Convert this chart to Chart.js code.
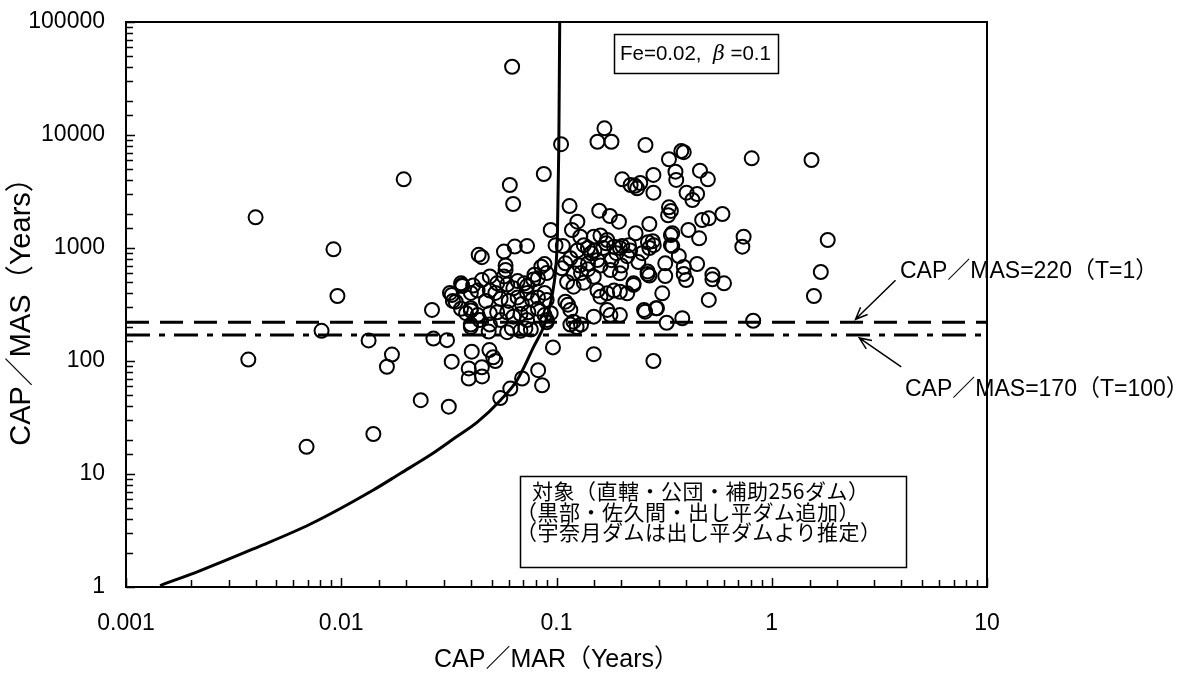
<!DOCTYPE html>
<html>
<head>
<meta charset="utf-8">
<script src="https://cdn.jsdelivr.net/npm/chart.js@4.4.0/dist/chart.umd.min.js"></script>
<style>
  html, body { margin: 0; padding: 0; background: #fff; }
  #wrap { width: 1190px; height: 677px; position: relative; }
</style>
</head>
<body>
<div id="wrap"><canvas id="sedChart"></canvas></div>
<script>
// dams: CAP/MAR (x) and CAP/MAS (y)
const capMar = [
  0.0037, 0.0040, 0.0069, 0.0081, 0.0092, 0.0096, 0.0134, 0.0141, 0.0163, 0.0172,
  0.0195, 0.0234, 0.0264, 0.0268, 0.0310, 0.0316, 0.0326, 0.0391, 0.0450, 0.0391,
  0.0451, 0.0404, 0.0488, 0.0508, 0.0520, 0.0548, 0.0610, 0.0692, 0.0822, 0.0857,
  0.0963, 0.0622, 0.105, 0.0607, 0.0629, 0.0873, 0.167, 0.155, 0.180, 0.259,
  0.380, 0.390, 0.807, 1.53, 1.57, 1.69, 1.82, 0.82, 0.74, 0.73,
  0.282, 0.149, 0.0326, 0.0340, 0.0364, 0.0400, 0.0484, 0.0620, 0.0717, 0.0903,
  0.0400, 0.333, 0.357, 0.360, 0.464, 0.505, 0.402, 0.428, 0.450, 0.202,
  0.221, 0.237, 0.245, 0.232, 0.282, 0.282, 0.333, 0.340, 0.330, 0.590,
  0.475, 0.510, 0.410, 0.460, 0.450, 0.530, 0.600, 0.510, 0.390, 0.400,
  0.345, 0.270, 0.233, 0.202, 0.283, 0.270, 0.345, 0.370, 0.320, 0.320,
  0.310, 0.265, 0.270, 0.293, 0.255, 0.384, 0.325, 0.158, 0.177, 0.195,
  0.115, 0.125, 0.118, 0.094, 0.099, 0.107, 0.129, 0.134, 0.149, 0.160,
  0.172, 0.185, 0.197, 0.213, 0.145, 0.116, 0.110, 0.106, 0.120, 0.128,
  0.140, 0.155, 0.160, 0.178, 0.197, 0.149, 0.134, 0.112, 0.120, 0.155,
  0.172, 0.185, 0.197, 0.213, 0.228, 0.160, 0.110, 0.113, 0.116, 0.172,
  0.178, 0.197, 0.149, 0.120, 0.116, 0.130, 0.124, 0.265, 0.390, 0.530,
  0.228, 0.258, 0.290, 0.266, 0.280, 0.217, 0.340, 0.340, 0.170, 0.165,
  0.140, 0.150, 0.125, 0.190, 0.180, 0.140, 0.130, 0.200, 0.240, 0.250,
  0.220, 0.0435, 0.045, 0.057, 0.064, 0.073, 0.058, 0.058, 0.049, 0.057,
  0.045, 0.036, 0.0365, 0.041, 0.053, 0.059, 0.063, 0.073, 0.079, 0.085,
  0.088, 0.082, 0.078, 0.071, 0.066, 0.090, 0.032, 0.033, 0.040, 0.043,
  0.049, 0.052, 0.055, 0.060, 0.066, 0.073, 0.082, 0.088, 0.090, 0.077,
  0.069, 0.047, 0.036, 0.038, 0.040, 0.043, 0.044, 0.049, 0.053, 0.059,
  0.063, 0.068, 0.074, 0.082, 0.088, 0.094, 0.055, 0.073, 0.040, 0.049,
  0.090, 0.059, 0.068, 0.076
];
const capMas = [
  103, 1870, 17.4, 185, 973, 376, 152, 22.6, 89, 114,
  4050, 45, 283, 158, 153, 39.4, 98.6, 86, 88, 70,
  73, 121, 125, 108, 100, 47, 57, 70, 83, 61,
  132, 40200, 8300, 3610, 2450, 4520, 11460, 8720, 8720, 8160,
  7200, 7050, 6220, 6010, 376, 613, 1177, 227, 1260, 1027,
  100, 115, 384, 335, 471, 293, 182, 195, 195, 230,
  200, 6100, 4735, 4000, 4830, 4055, 3085, 2660, 3005, 4055,
  3610, 3375, 3760, 3550, 4430, 3085, 2290, 2130, 1950, 2000,
  1770, 1830, 1443, 1218, 722, 528, 487, 347, 589, 520,
  1350, 1630, 1350, 1042, 1060, 1000, 1040, 850, 732, 565,
  397, 589, 570, 293, 283, 239, 218, 2140, 1920, 1710,
  2350, 1710, 1443, 1443, 1060, 1042, 1258, 1060, 1258, 1290,
  1177, 1027, 1000, 846, 898, 811, 732, 661, 597, 700,
  730, 783, 700, 639, 597, 557, 493, 500, 455, 420,
  397, 420, 410, 397, 471, 371, 335, 315, 283, 283,
  255, 255, 247, 223, 210, 210, 200, 620, 680, 580,
  487, 273, 293, 1125, 1150, 1060, 1300, 1060, 1100, 1000,
  1000, 950, 950, 900, 780, 650, 600, 700, 750, 900,
  950, 870, 830, 930, 1030, 1040, 700, 640, 560, 560,
  520, 487, 460, 465, 487, 475, 440, 460, 580, 683,
  720, 540, 525, 487, 510, 600, 400, 340, 400, 420,
  420, 400, 355, 340, 365, 400, 365, 400, 347, 347,
  320, 340, 290, 265, 280, 255, 230, 265, 270, 270,
  247, 260, 270, 290, 255, 265, 230, 230, 210, 210,
  220, 180, 185, 190
];

// theoretical curve (Fe=0.02, beta=0.1)
const curveMar = [0.00144, 0.0022, 0.0039, 0.0072, 0.0141, 0.0188, 0.0259, 0.0339, 0.0430, 0.0549, 0.0657, 0.0784, 0.088, 0.094, 0.0975, 0.0995, 0.101, 0.1025, 0.1035];
const curveMas = [1.03, 1.39, 2.17, 3.61, 7.22, 10.1, 14.7, 21.0, 28.9, 45, 68, 134, 210, 330, 490, 700, 1350, 8000, 100000];

// horizontal reference lines
const lineMar = [0.001, 10];
const masT1 = 220;
const masT100 = 170;

const xTickLabels = ['0.001', '0.01', '0.1', '1', '10'];
const yTickLabels = ['1', '10', '100', '1000', '10000', '100000'];

const LATIN = '"Liberation Sans", Arial, "Noto Sans CJK JP", sans-serif';
const JP = '"Noto Sans CJK JP", "Liberation Sans", sans-serif';

function decadeIndex(v) {
  const l = Math.log10(v);
  const r = Math.round(l);
  return Math.abs(l - r) < 1e-6 ? r : null;
}

function drawArrow(ctx, x1, y1, x2, y2) {
  const ang = Math.atan2(y2 - y1, x2 - x1);
  const head = 13;
  ctx.beginPath();
  ctx.moveTo(x1, y1);
  ctx.lineTo(x2, y2);
  ctx.moveTo(x2 - head * Math.cos(ang - 0.4), y2 - head * Math.sin(ang - 0.4));
  ctx.lineTo(x2, y2);
  ctx.lineTo(x2 - head * Math.cos(ang + 0.4), y2 - head * Math.sin(ang + 0.4));
  ctx.stroke();
}

const framePlugin = {
  id: 'framePlugin',
  afterDraw(chart) {
    const ctx = chart.ctx;
    const { left, right, top, bottom } = chart.chartArea;
    const xs = chart.scales.x;
    const ys = chart.scales.y;
    ctx.save();
    ctx.strokeStyle = '#000';
    ctx.fillStyle = '#000';

    // inward tick marks
    ctx.lineWidth = 1.5;
    ctx.beginPath();
    xs.ticks.forEach(t => {
      const px = Math.round(xs.getPixelForValue(t.value)) + 0.5;
      const len = decadeIndex(t.value) !== null ? 9 : 7;
      ctx.moveTo(px, bottom);
      ctx.lineTo(px, bottom - len);
    });
    ys.ticks.forEach(t => {
      const py = Math.round(ys.getPixelForValue(t.value)) + 0.5;
      const len = decadeIndex(t.value) !== null ? 9 : 7;
      ctx.moveTo(left, py);
      ctx.lineTo(left + len, py);
    });
    ctx.stroke();

    // plot frame
    ctx.lineWidth = 2;
    ctx.strokeRect(left, top, right - left, bottom - top);

    // parameter box
    ctx.lineWidth = 1.5;
    ctx.strokeRect(614.5, 34.5, 164, 39);
    ctx.textBaseline = 'alphabetic';
    ctx.textAlign = 'left';
    let tx = 620;
    const ty = 60;
    ctx.font = '20.5px ' + LATIN;
    ctx.fillText('Fe=0.02,  ', tx, ty);
    tx += ctx.measureText('Fe=0.02,  ').width;
    ctx.font = 'italic 20.5px "DejaVu Serif", serif';
    ctx.fillText('β', tx, ty);
    tx += ctx.measureText('β').width;
    ctx.font = '20.5px ' + LATIN;
    ctx.fillText(' =0.1', tx, ty);

    // data description box
    ctx.lineWidth = 1.5;
    ctx.strokeRect(520.5, 476.5, 386, 91);
    ctx.font = '21px ' + JP;
    ctx.letterSpacing = '0.5px';
    ctx.textBaseline = 'middle';
    ctx.fillText('対象（直轄・公団・補助256ダム）', 532, 491);
    ctx.fillText('（黒部・佐久間・出し平ダム追加）', 516, 512);
    ctx.fillText('（宇奈月ダムは出し平ダムより推定）', 516, 532);
    ctx.letterSpacing = '0px';

    // reference line labels and arrows
    ctx.font = '23px ' + LATIN;
    ctx.fillText('CAP／MAS=220（T=1）', 900, 272);
    ctx.fillText('CAP／MAS=170（T=100）', 905, 390);
    ctx.lineWidth = 1.5;
    const tip1x = xs.getPixelForValue(2.45);
    const tip1y = ys.getPixelForValue(masT1) - 3;
    drawArrow(ctx, tip1x + 40, tip1y - 39, tip1x, tip1y);
    const tip2x = xs.getPixelForValue(2.55);
    const tip2y = ys.getPixelForValue(masT100) + 3;
    drawArrow(ctx, tip2x + 42, tip2y + 29, tip2x, tip2y);

    ctx.restore();
  }
};

const damPoints = capMar.map((x, i) => ({ x: x, y: capMas[i] }));
const curvePoints = curveMar.map((x, i) => ({ x: x, y: curveMas[i] }));
const t1Points = lineMar.map(x => ({ x: x, y: masT1 }));
const t100Points = lineMar.map(x => ({ x: x, y: masT100 }));

new Chart(document.getElementById('sedChart'), {
  type: 'scatter',
  data: {
    datasets: [
      {
        label: 'dams',
        data: damPoints,
        pointRadius: 7,
        pointBorderWidth: 2,
        pointBorderColor: '#000',
        pointBackgroundColor: 'rgba(0,0,0,0)',
        showLine: false
      },
      {
        label: 'curve',
        data: curvePoints,
        showLine: true,
        pointRadius: 0,
        borderColor: '#000',
        borderWidth: 3,
        cubicInterpolationMode: 'monotone'
      },
      {
        label: 'T=1',
        data: t1Points,
        showLine: true,
        pointRadius: 0,
        borderColor: '#000',
        borderWidth: 3,
        borderDash: [23, 11]
      },
      {
        label: 'T=100',
        data: t100Points,
        showLine: true,
        pointRadius: 0,
        borderColor: '#000',
        borderWidth: 3,
        borderDash: [24, 9, 6, 9]
      }
    ]
  },
  options: {
    responsive: true,
    maintainAspectRatio: false,
    animation: false,
    layout: { padding: { top: 22, right: 203, bottom: 0, left: 0 } },
    plugins: {
      legend: { display: false },
      tooltip: { enabled: false }
    },
    scales: {
      x: {
        type: 'logarithmic',
        min: 0.001,
        max: 10,
        afterFit: scale => {
          scale.height = 90;
          scale.paddingLeft = 0;
          scale.paddingRight = 0;
        },
        grid: { display: false, drawTicks: false },
        border: { display: false },
        ticks: {
          autoSkip: false,
          maxRotation: 0,
          padding: 23,
          color: '#000',
          font: { family: LATIN, size: 23 },
          callback: value => {
            const d = decadeIndex(value);
            return d === null ? '' : xTickLabels[d + 3];
          }
        },
        title: {
          display: true,
          text: 'CAP／MAR（Years）',
          color: '#000',
          font: { family: LATIN, size: 25 },
          padding: { top: 0, bottom: 2 }
        }
      },
      y: {
        type: 'logarithmic',
        min: 1,
        max: 100000,
        afterFit: scale => {
          scale.width = 126;
          scale.paddingTop = 0;
          scale.paddingBottom = 0;
        },
        grid: { display: false, drawTicks: false },
        border: { display: false },
        ticks: {
          autoSkip: false,
          padding: 21,
          color: '#000',
          font: { family: LATIN, size: 23 },
          callback: value => {
            const d = decadeIndex(value);
            return d === null ? '' : yTickLabels[d];
          }
        },
        title: {
          display: true,
          text: 'CAP／MAS（Years）',
          color: '#000',
          font: { family: LATIN, size: 29 },
          padding: { top: 5, bottom: 0 }
        }
      }
    }
  },
  plugins: [framePlugin]
});
</script>
</body>
</html>
